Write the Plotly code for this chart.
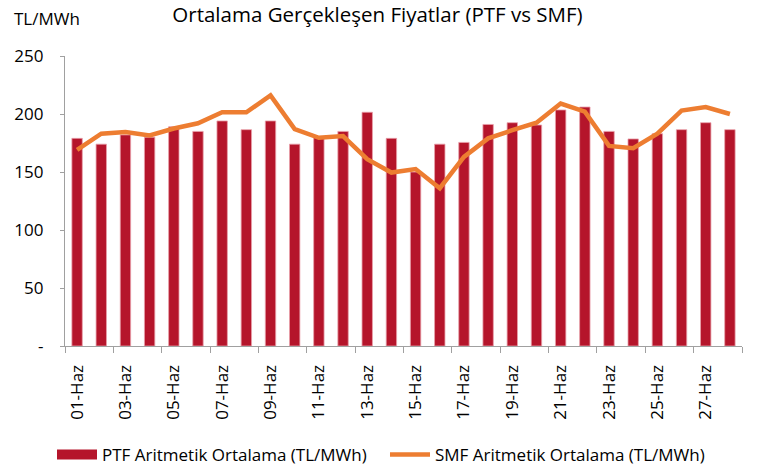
import plotly.graph_objects as go

days = [f"{d:02d}-Haz" for d in range(1, 29)]
ptf = [179, 174, 182, 180, 189, 185, 194, 186.5, 194, 174, 180, 185, 201.5, 179,
       150, 174, 175.5, 191, 192.5, 190.5, 203.5, 206, 185, 178.5, 183, 186.5, 192.5, 186.5]
smf = [169, 183, 184.5, 181.5, 187.5, 192, 201.5, 201.5, 216, 187, 179.5, 181, 161, 149.5,
       152.5, 136, 163, 179, 186, 192.5, 209, 202, 172.5, 170.5, 183, 203, 206, 200]
yticks = [0, 50, 100, 150, 200, 250]
yticklabels = ["-", "50", "100", "150", "200", "250"]

FONT = "Open Sans"
BAR_COLOR = "#B5152B"
LINE_COLOR = "#ED7D31"
AXIS_COLOR = "#A0A0A0"

fig = go.Figure()
fig.add_trace(go.Bar(
    x=days, y=ptf, name="PTF Aritmetik Ortalama (TL/MWh)", showlegend=False,
    marker=dict(color=BAR_COLOR, line=dict(color="#E8A0AA", width=0.8)),
))
# legend entry drawn as a wide block, like the reference
fig.add_trace(go.Scatter(
    x=[None], y=[None], name="PTF Aritmetik Ortalama (TL/MWh)\u00a0\u00a0\u00a0", mode="lines",
    line=dict(color=BAR_COLOR, width=10), showlegend=True,
))
fig.add_trace(go.Scatter(
    x=days, y=smf, name="SMF Aritmetik Ortalama (TL/MWh)", mode="lines",
    line=dict(color=LINE_COLOR, width=4.5),
))

fig.update_layout(
    width=758, height=473,
    margin=dict(l=65, r=16, t=56, b=127, autoexpand=False),
    paper_bgcolor="white", plot_bgcolor="white",
    bargap=0.57,
    font=dict(family=FONT, color="#000000"),
    title=dict(text="Ortalama Gerçekleşen Fiyatlar (PTF vs SMF)", x=0.498, xanchor="center",
               y=0.968, yanchor="middle", font=dict(size=20.5, family=FONT)),
    showlegend=True,
    legend=dict(orientation="h", xref="container", xanchor="left", x=0.0686,
                yref="container", y=0.038, yanchor="middle",
                font=dict(size=17, family=FONT), itemwidth=40, traceorder="normal"),
    xaxis=dict(
        type="category", tickson="boundaries", dtick=2,
        ticks="outside", ticklen=6, tickcolor=AXIS_COLOR,
        showline=True, linecolor=AXIS_COLOR, linewidth=1.3,
        tickangle=-90, tickfont=dict(size=17, family=FONT),
        ticklabelstandoff=11,
        showgrid=False, range=[-0.5, 27.5], automargin=False,
    ),
    yaxis=dict(
        range=[0, 250], tickvals=yticks, ticktext=yticklabels,
        showline=True, linecolor=AXIS_COLOR, linewidth=1.3,
        ticks="outside", ticklen=4, tickcolor=AXIS_COLOR,
        showgrid=False, zeroline=False, automargin=False,
        tickfont=dict(size=17, family=FONT), ticklabelstandoff=13,
    ),
    annotations=[dict(text="TL/MWh", xref="paper", yref="paper", x=-0.078, y=1.131,
                      xanchor="left", yanchor="middle", showarrow=False,
                      font=dict(size=17, family=FONT))],
)

# remove the browser's default 8px page margin so the figure fills the window exactly
fig.write_html("out.html", config={"displayModeBar": False},
               post_script="document.body.style.margin='0px';")
